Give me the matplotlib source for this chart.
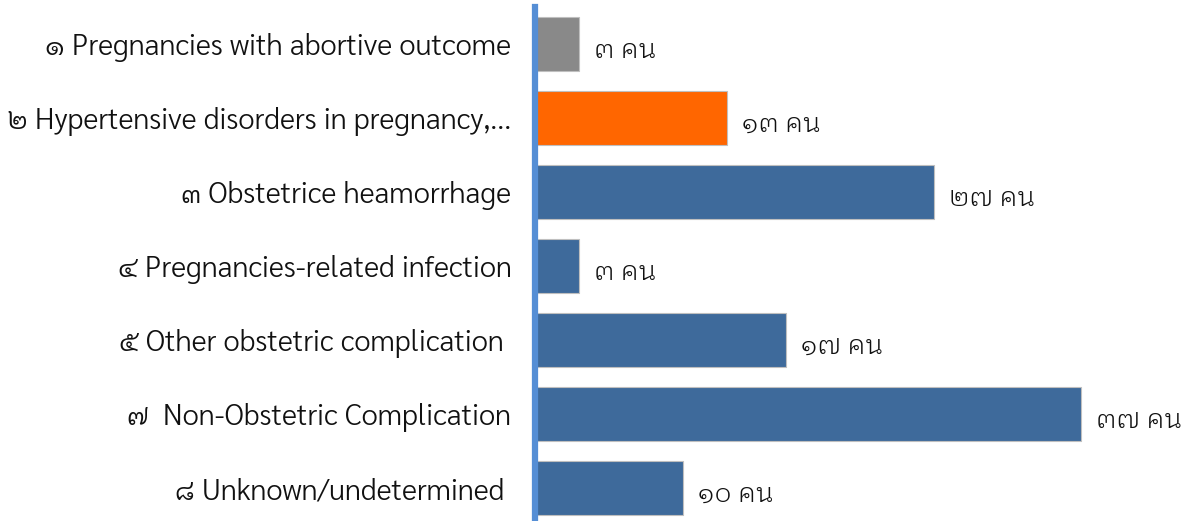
import matplotlib
matplotlib.use("Agg")
import matplotlib.pyplot as plt
from matplotlib import transforms

categories = ["๑ Pregnancies with abortive outcome",
              "๒ Hypertensive disorders in pregnancy,...",
              "๓ Obstetrice heamorrhage",
              "๔ Pregnancies-related infection",
              "๕ Other obstetric complication ",
              "๗  Non-Obstetric Complication",
              "๘ Unknown/undetermined "]
values = [3, 13, 27, 3, 17, 37, 10]
value_labels = ["๓ คน", "๑๓ คน", "๒๗ คน", "๓ คน", "๑๗ คน", "๓๗ คน", "๑๐ คน"]
colors = ["#898989", "#FF6600", "#3E6A9B", "#3E6A9B", "#3E6A9B", "#3E6A9B", "#3E6A9B"]

LABEL_FONT = ["Sarabun", "Noto Sans Thai", "DejaVu Sans"]
VALUE_FONT = ["IBM Plex Sans Thai Looped", "Noto Sans Thai Looped", "DejaVu Sans"]

fig = plt.figure(figsize=(11.94, 5.21), dpi=100)
ax = fig.add_axes([535/1194, -4/521, 650/1194, 518/521])
y = list(range(len(values)))
ax.barh(y, values, height=0.72, color=colors, edgecolor="#BFBFBF", linewidth=0.8)
ax.set_ylim(len(values) - 0.5, -0.5)
ax.set_xlim(0, 650/14.76)
ax.set_yticks(y)
ax.set_yticklabels(categories, fontsize=21, family=LABEL_FONT, fontweight=300, color="#111111")
ax.tick_params(axis="y", length=0, pad=17)
ax.set_xticks([])
for s in ["top", "right", "bottom"]:
    ax.spines[s].set_visible(False)
ax.spines["left"].set_color("#558ED5")
ax.spines["left"].set_linewidth(4.5)
off = transforms.offset_copy(ax.transData, fig=fig, x=15, y=-6, units="dots")
for yi, v, lab in zip(y, values, value_labels):
    ax.text(v, yi, lab, va="center", ha="left", fontsize=19, family=VALUE_FONT,
            fontweight=300, color="#111111", transform=off)
fig.savefig("out.png", dpi=100)
